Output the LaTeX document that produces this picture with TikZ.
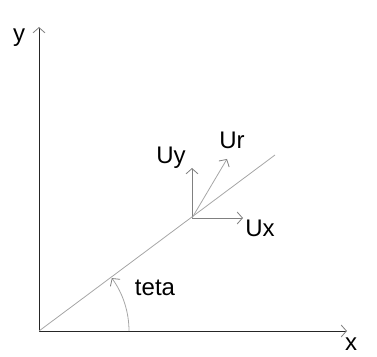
\documentclass[tikz,border=0pt]{standalone}
\usepackage{fontspec}
\setmainfont{Liberation Sans}
\usetikzlibrary{arrows.meta}

\begin{document}
\begin{tikzpicture}[x=0.75pt,y=0.75pt,>={Straight Barb[length=4pt,width=9pt,color=gray]},
  lbl/.style={font=\fontsize{18}{20}\selectfont,inner sep=0pt},
  vec/.style={->,gray,line width=0.6pt}]
\useasboundingbox(0,0)rectangle(377,356);
\coordinate(O)at(39,25);
\coordinate(ytip)at(39,329);
\coordinate(xtip)at(347,25);
\coordinate(lend)at(275,201);
\coordinate(P)at(192,138);
\coordinate(Uxtip)at(243,138);
\coordinate(Uytip)at(192,188);
\coordinate(Urtip)at(227,197);
% axes
\draw[->,black!85,line width=0.6pt](O)--(ytip);
\draw[->,black!85,line width=0.6pt](O)--(xtip);
\draw[black!35,line width=0.6pt](O)--(lend);
% unit vectors
\draw[vec](P)--(Uxtip);
\draw[vec](P)--(Uytip);
\draw[vec,black!35](P)--(Urtip);
% angle
\draw[->,black!35,line width=0.6pt]([shift={(0:90)}]O)arc(0:36:90);
\node[lbl](ylbl)at(19,318){y};
\node[lbl](xlbl)at(351,12){x};
\node[lbl](Uylbl)at(171,198){Uy};
\node[lbl](Urlbl)at(232,216){Ur};
\node[lbl](Uxlbl)at(260,128){Ux};
\node[lbl](tetalbl)at(155,68){teta};
\end{tikzpicture}
\end{document}
